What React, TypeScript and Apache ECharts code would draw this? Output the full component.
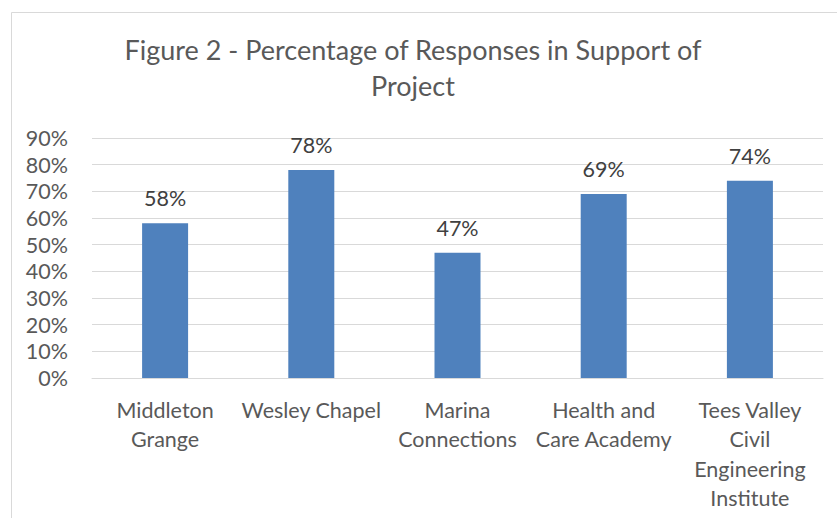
import React, { useEffect, useRef } from "react";
import * as echarts from "echarts";

const categories = [
  "Middleton\nGrange",
  "Wesley Chapel",
  "Marina\nConnections",
  "Health and\nCare Academy",
  "Tees Valley\nCivil\nEngineering\nInstitute",
];
const values = [58, 78, 47, 69, 74];
const titleText = "Figure 2 - Percentage of Responses in Support of\nProject";

const FONT = "Lato, 'Open Sans', sans-serif";

export default function App() {
  const ref = useRef<HTMLDivElement>(null);
  useEffect(() => {
    if (!ref.current) return;
    const chart = echarts.init(ref.current, null, { renderer: "svg" });
    chart.setOption({
      animation: false,
      backgroundColor: "#ffffff",
      title: {
        text: titleText,
        left: 408,
        top: 26,
        textAlign: "center",
        textStyle: {
          fontFamily: FONT,
          fontSize: 27,
          fontWeight: "normal",
          color: "#595959",
          lineHeight: 36,
        },
      },
      graphic: [
        {
          type: "rect",
          shape: { x: 11.5, y: 12.5, width: 840, height: 520 },
          style: { fill: "none", stroke: "#D9D9D9", lineWidth: 1 },
          silent: true,
        },
      ],
      grid: { left: 92, right: 14, top: 138, bottom: 140, containLabel: false },
      xAxis: {
        type: "category",
        data: categories,
        axisLine: { lineStyle: { color: "#D9D9D9", width: 1 } },
        axisTick: { show: false },
        axisLabel: {
          interval: 0,
          margin: 17,
          fontFamily: FONT,
          fontSize: 21.5,
          lineHeight: 29.5,
          color: "#595959",
          verticalAlign: "top",
        },
      },
      yAxis: {
        type: "value",
        min: 0,
        max: 90,
        interval: 10,
        axisLine: { show: false },
        axisTick: { show: false },
        splitLine: { lineStyle: { color: "#D9D9D9", width: 1 } },
        axisLabel: {
          formatter: "{value}%",
          margin: 24,
          fontFamily: FONT,
          fontSize: 21.5,
          color: "#595959",
        },
      },
      series: [
        {
          type: "bar",
          data: values,
          barWidth: 46,
          itemStyle: { color: "#4F81BD" },
          label: {
            show: true,
            position: "top",
            distance: 14,
            formatter: "{c}%",
            fontFamily: FONT,
            fontSize: 21.5,
            color: "#404040",
          },
        },
      ],
    });
    return () => chart.dispose();
  }, []);
  return (
    <div
      ref={ref}
      style={{ position: "fixed", left: 0, top: 0, width: 837, height: 518 }}
    />
  );
}
